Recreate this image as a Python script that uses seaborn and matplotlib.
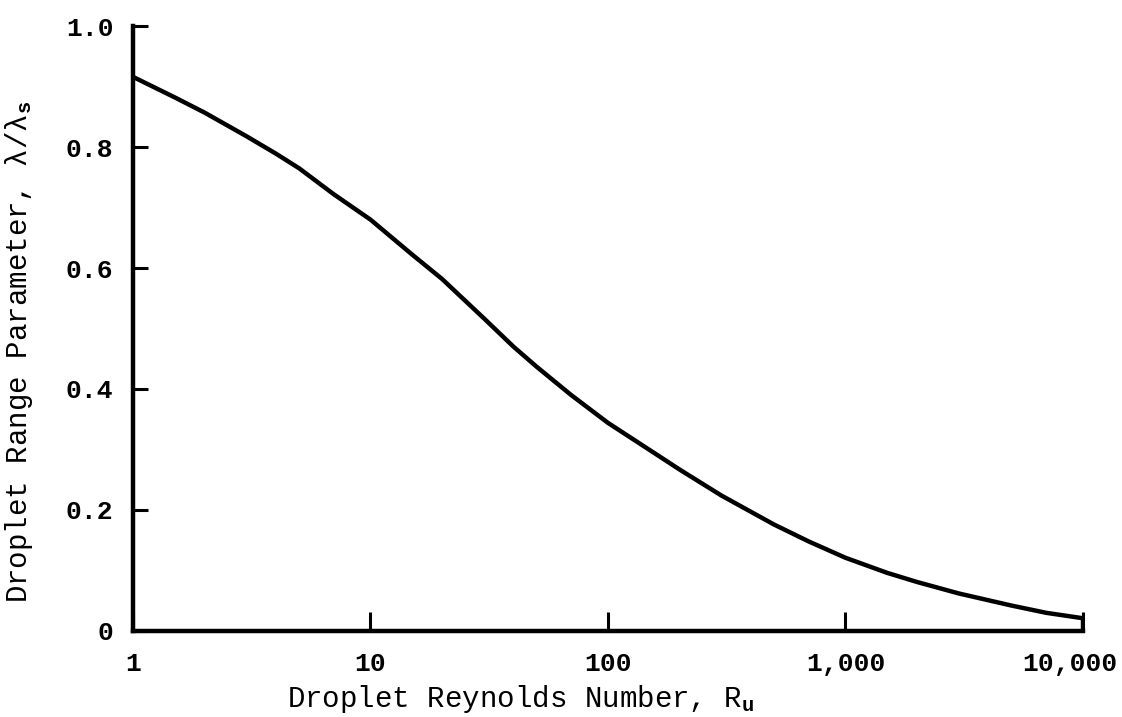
import numpy as np
import pandas as pd
import matplotlib
matplotlib.use("Agg")
import matplotlib.pyplot as plt
import matplotlib.transforms as mtransforms
from matplotlib.ticker import FixedLocator, FixedFormatter, NullLocator
import seaborn as sns

# values
reynolds = [1, 1.5, 2, 3, 4, 5, 7, 10, 15, 20, 30, 40, 50, 70, 100, 150, 200, 300,
            500, 700, 1000, 1500, 2000, 3000, 5000, 7000, 10000]
range_param = [0.916, 0.882, 0.857, 0.818, 0.789, 0.765, 0.722, 0.680, 0.622, 0.582,
               0.517, 0.470, 0.437, 0.390, 0.344, 0.299, 0.267, 0.224, 0.176, 0.148,
               0.121, 0.096, 0.081, 0.062, 0.042, 0.030, 0.021]

x_ticks = [1, 10, 100, 1000, 10000]
x_labels = ["1", "10", "100", "1,000", "10,000"]
y_ticks = [0, 0.2, 0.4, 0.6, 0.8, 1.0]
y_labels = ["0", "0.2", "0.4", "0.6", "0.8", "1.0"]

df = pd.DataFrame({"Re": reynolds, "lam": range_param})

sns.set_style("white")
plt.rcParams['font.family'] = ['Liberation Mono', 'DejaVu Sans Mono']
plt.rcParams['font.weight'] = 'bold'
plt.rcParams['mathtext.fontset'] = 'custom'
plt.rcParams['mathtext.rm'] = 'Liberation Mono:bold'
plt.rcParams['mathtext.it'] = 'Liberation Mono:bold'

fig = plt.figure(figsize=(11.22, 7.17), dpi=100)
ax = fig.add_axes([0.1185, 0.12, 0.8467, 0.8437])

sns.lineplot(data=df, x="Re", y="lam", color="black", linewidth=3.2, ax=ax)
ax.set_xscale("log")
ax.set_xlim(1, 10000)
ax.set_ylim(0, 1.0)

# short closing line at the right end
ax.vlines(reynolds[-1], 0, range_param[-1], color="black", linewidth=3.2)

sns.despine(ax=ax, top=True, right=True)
for s in ["left", "bottom"]:
    ax.spines[s].set_linewidth(3.2)
    ax.spines[s].set_color("black")

ax.xaxis.set_major_locator(FixedLocator(x_ticks))
ax.xaxis.set_major_formatter(FixedFormatter(x_labels))
ax.xaxis.set_minor_locator(NullLocator())
ax.yaxis.set_major_locator(FixedLocator(y_ticks))
ax.yaxis.set_major_formatter(FixedFormatter(y_labels))

ax.tick_params(axis="x", bottom=True, direction="in", length=14, width=2.2, pad=15,
               labelsize=19, colors="black")
ax.tick_params(axis="y", left=True, direction="in", length=11, width=2.2, pad=14,
               labelsize=19, colors="black")

# the 10,000 label sits a little left of its tick in the original
fig.canvas.draw()
last = ax.get_xticklabels()[-1]
last.set_transform(last.get_transform() +
                   mtransforms.ScaledTranslation(-13 / 100, 0, fig.dpi_scale_trans))

ax.set_xlabel("Droplet Reynolds Number, R$_\\mathrm{u}$", fontsize=21, color="black")
ax.set_ylabel("Droplet Range Parameter, λ/λ$_\\mathrm{s}$", fontsize=21, color="black")
ax.xaxis.set_label_coords(0.408, -0.086)
ax.yaxis.set_label_coords(-0.103, 0.461)

fig.savefig("out.png", dpi=100)
